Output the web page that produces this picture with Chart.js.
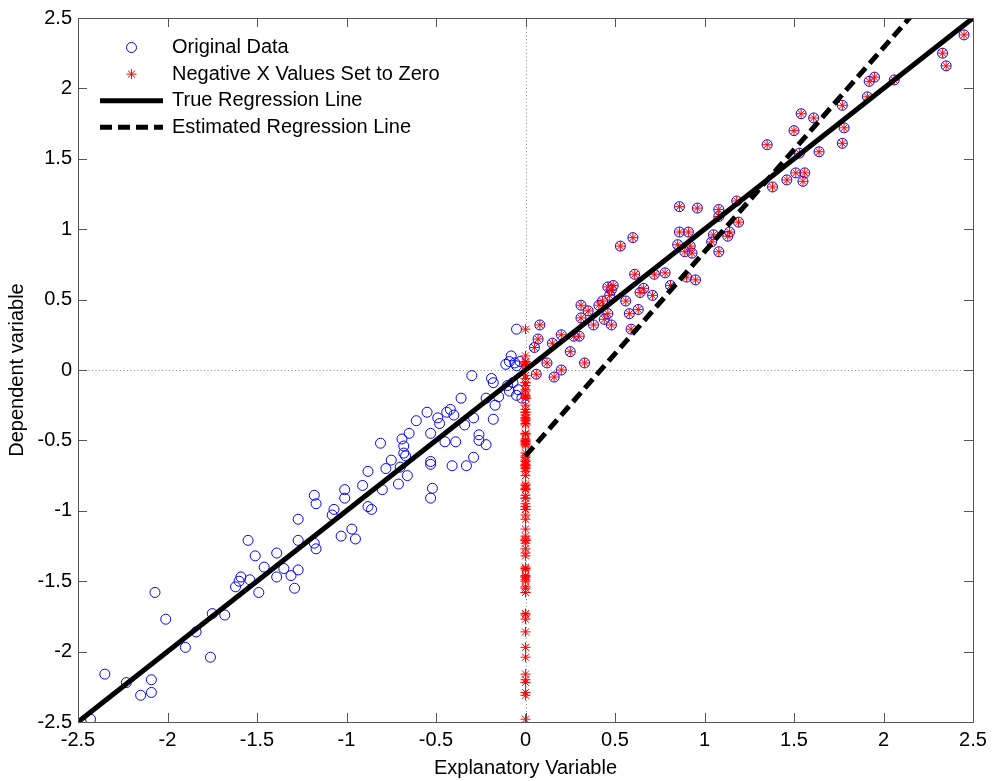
<!DOCTYPE html>
<html>
<head>
<meta charset="utf-8">
<script src="https://cdn.jsdelivr.net/npm/chart.js@4/dist/chart.umd.min.js"></script>
<style>
  html, body { margin: 0; padding: 0; background: #fff; }
  #wrap { width: 997px; height: 781px; position: relative; }
</style>
</head>
<body>
<div id="wrap"><canvas id="regChart"></canvas></div>
<script>
// --- data ---
const origX = [
  -2.43, -2.35, -2.23, -2.15, -2.09, -2.09, -2.07, -2.01, -1.90, -1.84, -1.76, -1.75, -1.68, -1.62,
  -1.60, -1.59, -1.55, -1.54, -1.51, -1.49, -1.46, -1.39, -1.39, -1.35, -1.31, -1.29, -1.27, -1.27,
  -1.27, -1.18, -1.17, -1.18, -1.17, -1.07, -1.08, -1.03, -0.97, -0.95, -1.01, -1.01, -0.91, -0.88,
  -0.86, -0.88, -0.81, -0.80, -0.78, -0.75, -0.71, -0.70, -0.69, -0.68, -0.68, -0.67, -0.66, -0.65,
  -0.61, -0.55, -0.53, -0.53, -0.53, -0.52, -0.53, -0.49, -0.48, -0.45, -0.44, -0.42, -0.40, -0.41,
  -0.39, -0.36, -0.34, -0.33, -0.29, -0.29, -0.26, -0.26, -0.22, -0.22, -0.18, -0.17, -0.30, -0.19,
  -0.18, -0.15, -0.11, -0.09, -0.05, -0.07, -0.05, -0.05, -0.08, -0.09, -0.06, -0.03, -0.10, -0.04,
  -0.02,
  0.08, 0.07, 0.05, 0.15, 0.20, 0.12, 0.06, 0.16, 0.20, 0.25, 0.27, 0.30, 0.33, 0.31, 0.35, 0.31,
  0.38, 0.41, 0.43, 0.44, 0.48, 0.46, 0.46, 0.48, 0.47, 0.56, 0.58, 0.59, 0.63, 0.64, 0.61, 0.53,
  0.60, 0.72, 0.78, 0.71, 0.81, 0.90, 0.95, 0.86, 0.96, 1.08, 0.86, 0.91, 1.05, 0.85, 0.92, 0.89,
  0.93, 1.08, 0.66, 0.49, 1.04, 1.08, 1.14, 1.13, 1.18, 1.19, 1.35, 1.38, 1.46, 1.51, 1.56, 1.55,
  1.50, 1.54, 1.61, 1.53, 1.64, 1.77, 1.78, 1.77, 1.91, 1.92, 1.95, 2.06, 2.33, 2.35, 2.45
];
const origY = [
  -2.48, -2.16, -2.22, -2.31, -2.29, -2.20, -1.58, -1.77, -1.97, -1.86, -2.04, -1.73, -1.74, -1.54,
  -1.50, -1.47, -1.21, -1.49, -1.32, -1.58, -1.40, -1.30, -1.47, -1.41, -1.46, -1.55, -1.42, -1.21,
  -1.06, -0.89, -0.95, -1.23, -1.27, -0.99, -1.03, -1.18, -1.13, -1.20, -0.85, -0.91, -0.82, -0.97,
  -0.99, -0.72, -0.52, -0.85, -0.70, -0.64, -0.81, -0.69, -0.49, -0.54, -0.59, -0.61, -0.75, -0.45,
  -0.36, -0.30, -0.45, -0.65, -0.67, -0.84, -0.91, -0.34, -0.38, -0.51, -0.30, -0.28, -0.32, -0.68,
  -0.51, -0.20, -0.39, -0.68, -0.62, -0.34, -0.46, -0.50, -0.53, -0.20, -0.35, -0.25, -0.04, -0.06,
  -0.09, -0.19, 0.04, -0.15, -0.18, -0.09, 0.03, 0.29, 0.10, 0.06, 0.05, 0.06, -0.11, -0.14,
  -0.20,
  0.32, 0.22, 0.16, 0.19, 0.25, 0.05, -0.03, -0.05, 0.00, 0.13, 0.24, 0.24, 0.05, 0.46, 0.42, 0.37,
  0.32, 0.46, 0.49, 0.36, 0.32, 0.40, 0.59, 0.57, 0.53, 0.49, 0.40, 0.29, 0.43, 0.55, 0.68, 0.88,
  0.94, 0.68, 0.69, 0.53, 0.60, 0.66, 0.64, 1.16, 1.15, 1.14, 0.98, 0.98, 0.96, 0.89, 0.88, 0.84,
  0.83, 0.84, 0.58, 0.60, 0.91, 1.09, 0.98, 0.95, 1.20, 1.05, 1.60, 1.30, 1.35, 1.40, 1.40, 1.34,
  1.70, 1.82, 1.79, 1.54, 1.55, 1.88, 1.72, 1.61, 1.94, 2.05, 2.08, 2.06, 2.25, 2.16, 2.38
];
const trueLineX = [-2.5, 2.5];
const trueLineY = [-2.5, 2.5];
const estLineX = [0, 2.5];
const estLineY = [-0.61, 3.015];

const seriesNames = ['Original Data', 'Negative X Values Set to Zero', 'True Regression Line', 'Estimated Regression Line'];
const xLabel = 'Explanatory Variable';
const yLabel = 'Dependent variable';
const axisMin = -2.5, axisMax = 2.5, tickStep = 0.5;

const FONT = '"Liberation Sans", Arial, Helvetica, sans-serif';

// original points, and the same points with negative x clipped to zero
const origPoints = origX.map((x, i) => ({ x: x, y: origY[i] }));
const zeroedPoints = origX.map((x, i) => ({ x: Math.max(0, x), y: origY[i] }));
const trueLine = trueLineX.map((x, i) => ({ x: x, y: trueLineY[i] }));
const estLine = estLineX.map((x, i) => ({ x: x, y: estLineY[i] }));

// dotted zero lines, box with inward ticks, legend
const matlabAxes = {
    id: 'matlabAxes',
    beforeDatasetsDraw(chart) {
        const { ctx, chartArea: a, scales: { x, y } } = chart;
        ctx.save();
        ctx.strokeStyle = '#8a8a8a';
        ctx.lineWidth = 1;
        ctx.setLineDash([1, 2.5]);
        const x0 = Math.round(x.getPixelForValue(0)) + 0.5;
        const y0 = Math.round(y.getPixelForValue(0)) + 0.5;
        ctx.beginPath();
        ctx.moveTo(x0, a.top); ctx.lineTo(x0, a.bottom);
        ctx.moveTo(a.left, y0); ctx.lineTo(a.right, y0);
        ctx.stroke();
        ctx.restore();
    },
    afterDatasetsDraw(chart) {
        const { ctx, chartArea: a, scales: { x, y } } = chart;
        const tl = 9;
        ctx.save();
        ctx.strokeStyle = '#555';
        ctx.lineWidth = 1;
        ctx.beginPath();
        x.ticks.forEach(t => {
            const px = Math.round(x.getPixelForValue(t.value)) + 0.5;
            ctx.moveTo(px, a.bottom); ctx.lineTo(px, a.bottom - tl);
            ctx.moveTo(px, a.top); ctx.lineTo(px, a.top + tl);
        });
        y.ticks.forEach(t => {
            const py = Math.round(y.getPixelForValue(t.value)) + 0.5;
            ctx.moveTo(a.left, py); ctx.lineTo(a.left + tl, py);
            ctx.moveTo(a.right, py); ctx.lineTo(a.right - tl, py);
        });
        ctx.stroke();
        ctx.strokeRect(Math.round(a.left) + 0.5, Math.round(a.top) + 0.5,
                       Math.round(a.right - a.left), Math.round(a.bottom - a.top));
        ctx.restore();
    },
    afterDraw(chart) {
        const { ctx, chartArea: a } = chart;
        const ds = chart.data.datasets;
        const x1 = a.left + 22, x2 = a.left + 85, xm = (x1 + x2) / 2;
        const textX = a.left + 94;
        ctx.save();
        ctx.font = '20px ' + FONT;
        ctx.textBaseline = 'middle';
        seriesNames.forEach((name, i) => {
            const yy = a.top + 29.5 + i * 26.6;
            const d = ds[i];
            ctx.save();
            ctx.strokeStyle = d.borderColor;
            ctx.lineWidth = d.borderWidth;
            ctx.beginPath();
            if (d.showLine) {
                ctx.setLineDash(d.borderDash || []);
                ctx.moveTo(x1, yy); ctx.lineTo(x2, yy);
            } else if (d.pointStyle === 'circle') {
                ctx.arc(xm, yy, d.pointRadius, 0, Math.PI * 2);
            } else {
                const r = d.pointRadius, q = r * Math.SQRT1_2;
                ctx.moveTo(xm - r, yy); ctx.lineTo(xm + r, yy);
                ctx.moveTo(xm, yy - r); ctx.lineTo(xm, yy + r);
                ctx.moveTo(xm - q, yy - q); ctx.lineTo(xm + q, yy + q);
                ctx.moveTo(xm - q, yy + q); ctx.lineTo(xm + q, yy - q);
            }
            ctx.stroke();
            ctx.restore();
            ctx.fillStyle = '#000';
            ctx.fillText(name, textX, yy);
        });
        ctx.restore();
    }
};

const tickFont = { family: FONT, size: 20 };
const tickText = v => String(Math.round(v * 10) / 10);

new Chart(document.getElementById('regChart'), {
    type: 'scatter',
    data: {
        datasets: [
            { label: seriesNames[0], data: origPoints, pointStyle: 'circle', pointRadius: 5, borderWidth: 1,
              borderColor: '#0000ff', backgroundColor: 'rgba(0,0,0,0)', showLine: false, order: 4 },
            { label: seriesNames[1], data: zeroedPoints, pointStyle: 'star', pointRadius: 5, borderWidth: 1,
              borderColor: '#ff0000', backgroundColor: 'rgba(0,0,0,0)', showLine: false, order: 3 },
            { label: seriesNames[2], data: trueLine, showLine: true, pointRadius: 0, borderWidth: 5,
              borderColor: '#000', backgroundColor: '#000', borderCapStyle: 'butt', order: 2 },
            { label: seriesNames[3], data: estLine, showLine: true, pointRadius: 0, borderWidth: 5,
              borderColor: '#000', backgroundColor: '#000', borderDash: [12, 6], borderCapStyle: 'butt', order: 1 }
        ]
    },
    options: {
        responsive: true, maintainAspectRatio: false, animation: false,
        layout: { padding: { left: 0, right: 24, top: 15, bottom: 0 } },
        plugins: { legend: { display: false }, tooltip: { enabled: false } },
        scales: {
            x: {
                type: 'linear', min: axisMin, max: axisMax,
                grid: { display: false, drawTicks: false }, border: { display: false },
                ticks: { stepSize: tickStep, padding: 6, color: '#000', font: tickFont, callback: tickText },
                title: { display: true, text: xLabel, color: '#000', padding: { top: 0, bottom: 1 }, font: tickFont },
                afterFit(scale) { scale.height = 59; }
            },
            y: {
                type: 'linear', min: axisMin, max: axisMax,
                grid: { display: false, drawTicks: false }, border: { display: false },
                ticks: { stepSize: tickStep, padding: 6, color: '#000', font: tickFont, callback: tickText },
                title: { display: true, text: yLabel, color: '#000', padding: { top: 5, bottom: 0 }, font: tickFont },
                afterFit(scale) { scale.width = 78; }
            }
        }
    },
    plugins: [matlabAxes]
});
</script>
</body>
</html>
